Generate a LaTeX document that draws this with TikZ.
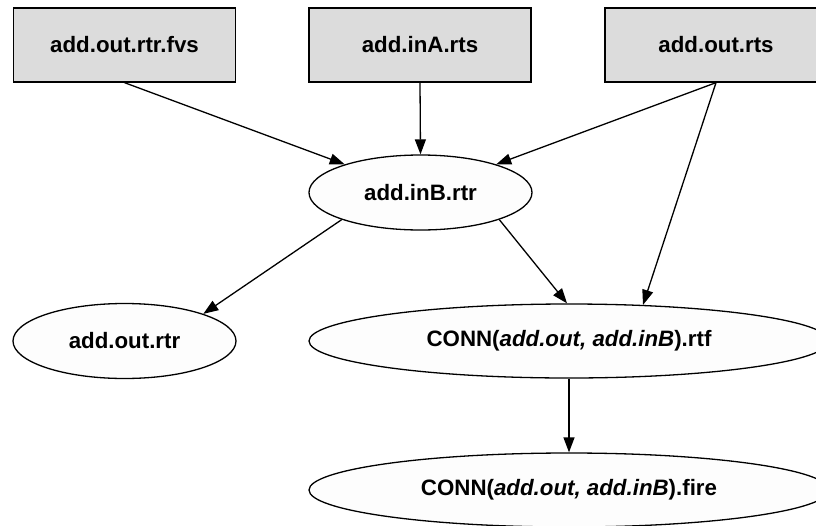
\documentclass[tikz,border=0pt]{standalone}
\usepackage{fontspec}
\setmainfont{Liberation Sans}
\usetikzlibrary{shapes.geometric,arrows.meta}
\definecolor{boxfill}{RGB}{220,220,220}
\definecolor{ovalfill}{RGB}{253,253,253}
\tikzset{
  every node/.style={font=\fontsize{22.3}{26}\selectfont\bfseries, inner sep=0pt},
  srcbox/.style={draw, line width=1.3pt, fill=boxfill, rectangle,
    minimum width=222pt, minimum height=74pt},
  oval/.style={draw, line width=1.3pt, fill=ovalfill, ellipse,
    minimum width=223pt, minimum height=75pt},
  wideoval/.style={oval, minimum width=520pt, minimum height=74pt},
  edge/.style={draw, line width=1.3pt, -{Triangle[length=15pt,width=11pt]}}
}
\begin{document}
\begin{tikzpicture}[x=1pt,y=-1pt]
  \useasboundingbox (0,0) rectangle (816,525);

  % source signals
  \node[srcbox] (fvs) at (124.5,45) {add.out.rtr.fvs};
  \node[srcbox] (inA) at (420,45) {add.inA.rts};
  \node[srcbox] (ors) at (716,45) {add.out.rts};

  % derived events
  \node[oval] (inB) at (420.5,192.5) {add.inB.rtr};
  \node[oval] (ortr) at (124.5,341) {add.out.rtr};
  \node[wideoval] (rtf) at (569,341) {CONN(\textit{add.out, add.inB}).rtf};
  \node[wideoval] (fire) at (569,490) {CONN(\textit{add.out, add.inB}).fire};

  % dependencies
  \path[edge] (fvs.south) -- (inB);
  \path[edge] (inA.south) -- (inB.north);
  \path[edge] (ors.south) -- (inB);
  \path[edge] (ors.south) -- (rtf.26);
  \path[edge] (inB.199) -- (ortr.19);
  \path[edge] (inB.-19) -- (rtf.93);
  \path[edge] (rtf.south) -- (fire.north);
\end{tikzpicture}
\end{document}
